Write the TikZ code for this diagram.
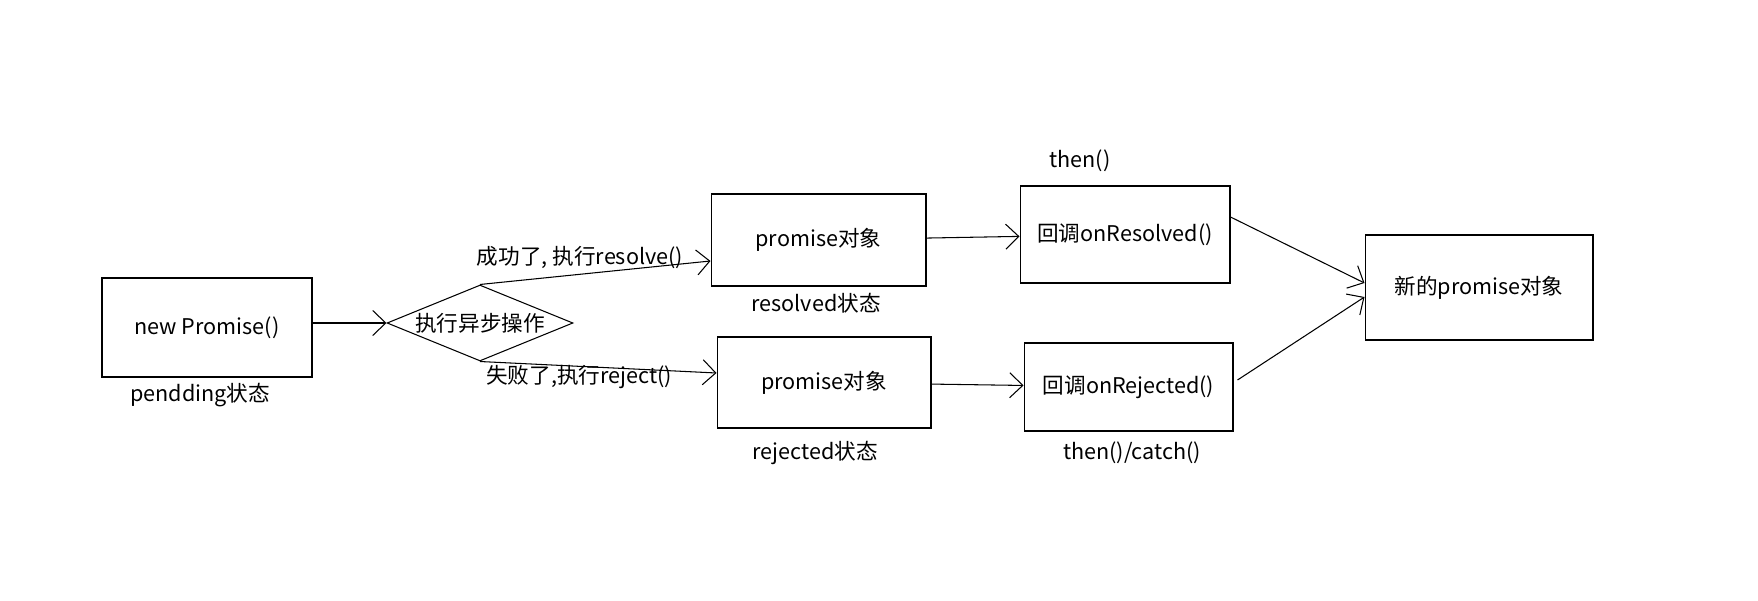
\documentclass[tikz,border=0pt]{standalone}
\usepackage{fontspec}
\setmainfont{Noto Sans CJK SC}
\usepackage{tikz}
\usetikzlibrary{arrows.meta,shapes.geometric,calc}

\begin{document}
\begin{tikzpicture}[x=0.02cm,y=-0.02cm,->,>={Straight Barb[length=0.26cm,width=0.5cm]},line width=0.6pt,
    every node/.style={font=\fontsize{12.3}{14}\selectfont},
    box/.style={draw,rectangle,inner sep=0pt},
    decision/.style={draw,diamond,inner sep=0pt,minimum width=3.72cm,minimum height=1.52cm}]
      \useasboundingbox (0,0) rectangle (1758,601);

      \node[box,minimum width=4.2cm,minimum height=1.98cm] (new) at (207,327.5) {new Promise()};
      \node[decision] (exec) at (480,323) {\makebox[0pt]{执行异步操作}};
      \node[box,minimum width=4.3cm,minimum height=1.84cm] (res) at (818.5,240) {promise对象};
      \node[box,minimum width=4.28cm,minimum height=1.82cm] (rej) at (824,382.5) {promise对象};
      \node[box,minimum width=4.2cm,minimum height=1.94cm] (onres) at (1125,234.5) {回调onResolved()};
      \node[box,minimum width=4.18cm,minimum height=1.76cm] (onrej) at (1128.5,387) {回调onRejected()};
      \node[box,minimum width=4.56cm,minimum height=2.1cm] (newp) at (1479,287.5) {新的promise对象};

      \node (pend) at (200,395) {pendding状态};
      \node (resst) at (816,303) {resolved状态};
      \node (rejst) at (815,453) {rejected状态};
      \node (then) at (1080,161) {then()};
      \node (catch) at (1132,453) {then()/catch()};
      \node (succ) at (580,258) {成功了, 执行resolve()};
      \node (fail) at (579,377) {失败了,执行reject()};

      \path
      (new.east |- exec.west) edge (exec.west)
      (exec.north) edge ([yshift=-0.42cm]res.west)
      (exec.south) edge ([yshift=0.19cm]rej.west)

      (res) edge (onres)
      (rej) edge (onrej)

      ([yshift=0.35cm]onres.east) edge ([yshift=0.09cm]newp.west)
      ([yshift=0.14cm,xshift=0.08cm]onrej.east) edge ([yshift=-0.19cm]newp.west);

  \end{tikzpicture}
\end{document}
